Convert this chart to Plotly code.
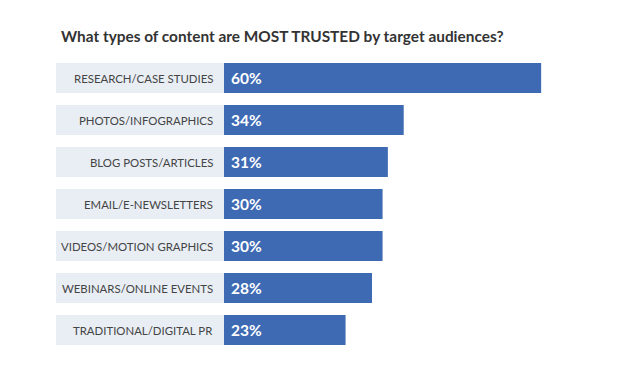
import plotly.graph_objects as go

categories = [
    "RESEARCH/CASE STUDIES",
    "PHOTOS/INFOGRAPHICS",
    "BLOG POSTS/ARTICLES",
    "EMAIL/E-NEWSLETTERS",
    "VIDEOS/MOTION GRAPHICS",
    "WEBINARS/ONLINE EVENTS",
    "TRADITIONAL/DIGITAL PR",
]
values = [60, 34, 31, 30, 30, 28, 23]
title_text = "What types of content are MOST TRUSTED by target audiences?"

BAR_COLOR = "#3E6AB4"
BOX_COLOR = "#E9EEF5"
FONT = "Lato"

# page body has an 8px margin, so the figure is sized to fit inside it
OFF = 8
W, H = 621 - OFF, 377 - OFF
ml, mr, mt, mb = 56 - OFF, 27, 57 - OFF, 26
plot_w = W - ml - mr
plot_h = H - mt - mb
label_w = 168
split = label_w / plot_w

fig = go.Figure()

# label background boxes
fig.add_trace(go.Bar(
    y=categories, x=[1] * len(categories), orientation="h",
    xaxis="x2", yaxis="y",
    marker=dict(color=BOX_COLOR, line=dict(width=0)),
    hoverinfo="skip", showlegend=False,
))

# value bars
fig.add_trace(go.Bar(
    y=categories, x=values, orientation="h",
    xaxis="x", yaxis="y",
    marker=dict(color=BAR_COLOR, line=dict(width=0)),
    hoverinfo="skip", showlegend=False,
))

annotations = []
for c, v in zip(categories, values):
    annotations.append(dict(
        x=0, y=c, xref="x", yref="y", text=c, showarrow=False,
        xanchor="right", xshift=-9, yanchor="middle",
        font=dict(family=FONT, size=11.4, color="#444444"),
    ))
    annotations.append(dict(
        x=0, y=c, xref="x", yref="y", text=f"<b>{v}%</b>", showarrow=False,
        xanchor="left", xshift=5, yanchor="middle",
        font=dict(family=FONT, size=15.5, color="#FFFFFF"),
    ))

title_x_px = 60 - OFF - 1
title_y_px = 36 - OFF
annotations.append(dict(
    x=(title_x_px - ml) / plot_w, y=1 + (mt - title_y_px) / plot_h,
    xref="paper", yref="paper", text=f"<b>{title_text}</b>",
    showarrow=False, xanchor="left", yanchor="middle",
    font=dict(family=FONT, size=15.4, color="#333333"),
))

fig.update_layout(
    width=W, height=H,
    margin=dict(l=ml, r=mr, t=mt, b=mb, pad=0),
    paper_bgcolor="white", plot_bgcolor="white",
    barmode="overlay",
    bargap=12 / 42,
    xaxis=dict(domain=[split, 1], range=[0, 70], visible=False, fixedrange=True),
    xaxis2=dict(domain=[0, split], range=[0, 1], visible=False, fixedrange=True),
    yaxis=dict(autorange="reversed", visible=False, fixedrange=True),
    annotations=annotations,
    showlegend=False,
)

fig.write_html("out.html")
